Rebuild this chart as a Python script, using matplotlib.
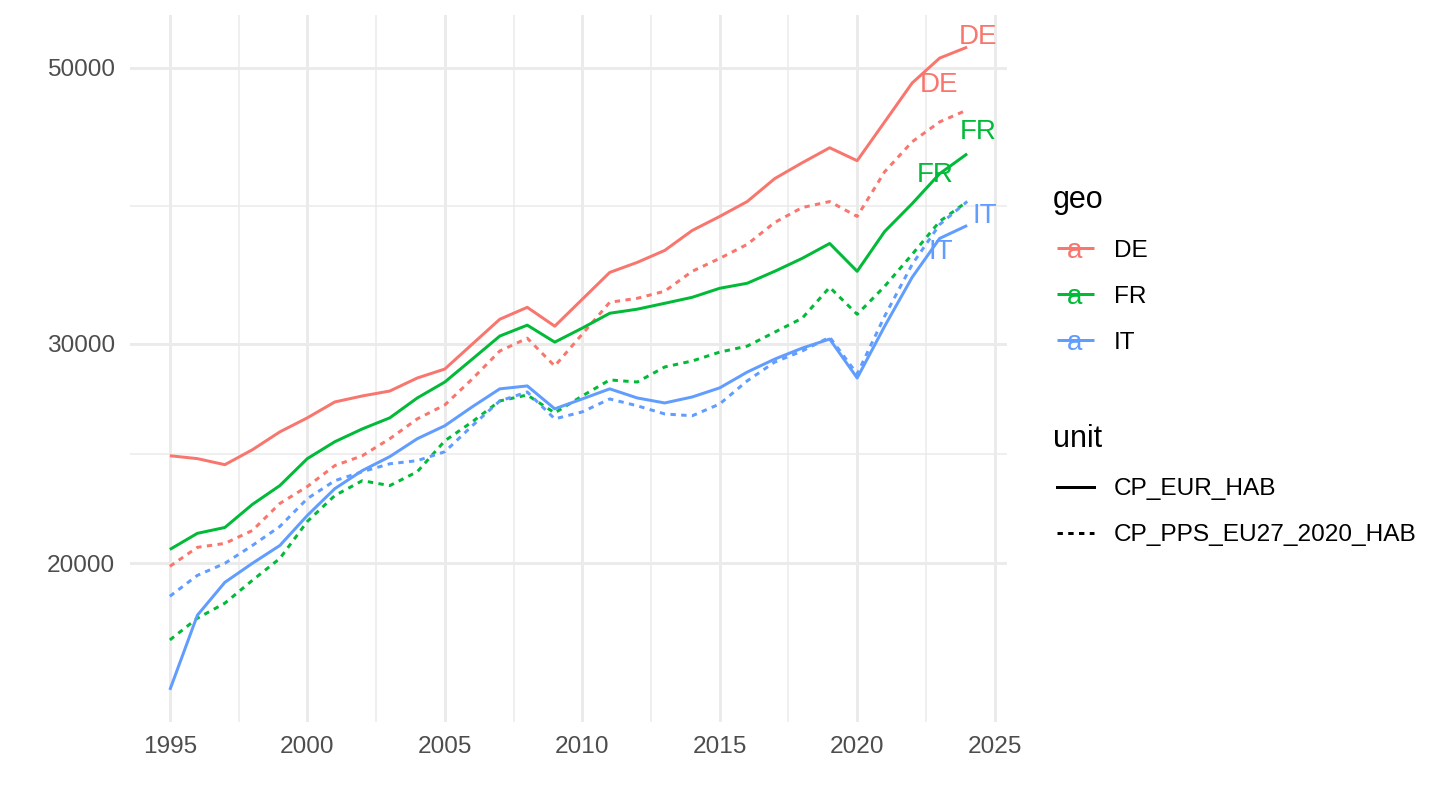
import numpy as np
import matplotlib
matplotlib.use("Agg")
import matplotlib.pyplot as plt
from matplotlib.lines import Line2D

plt.rcParams["font.family"] = ["Liberation Sans", "DejaVu Sans"]

YEARS = list(range(1995, 2025))

DE_EUR = [24400, 24270, 24000, 24670, 25500, 26170, 26950, 27250, 27500, 28170,
          28640, 29990, 31400, 32100, 31000, 32580, 34240, 34880, 35660, 37000,
          37970, 39030, 40720, 41930, 43110, 42090, 45220, 48590, 50880, 51920]
DE_PPS = [19890, 20600, 20750, 21250, 22340, 23050, 23960, 24400, 25180, 26120,
          26800, 28120, 29610, 30320, 28800, 30550, 32400, 32640, 33070, 34310,
          35140, 36060, 37550, 38600, 39030, 37970, 41240, 43590, 45220, 46230]
FR_EUR = [20520, 21140, 21370, 22300, 23090, 24270, 25040, 25640, 26170, 27150,
          27960, 29170, 30440, 31060, 30100, 30890, 31750, 31990, 32340, 32700,
          33250, 33560, 34310, 35140, 36120, 34310, 36930, 38880, 41090, 42630]
FR_PPS = [17360, 18070, 18580, 19380, 20180, 21610, 22670, 23300, 23090, 23690,
          25080, 25980, 27000, 27300, 26410, 27250, 28070, 27960, 28750, 29070,
          29550, 29880, 30660, 31460, 33310, 31690, 33370, 35400, 37620, 39030]
IT_EUR = [15830, 18170, 19310, 20000, 20670, 21850, 22960, 23740, 24360, 25180,
          25790, 26710, 27610, 27760, 26610, 27100, 27610, 27150, 26900, 27200,
          27660, 28480, 29170, 29770, 30270, 28170, 31000, 33930, 36460, 37340]
IT_PPS = [18820, 19560, 20000, 20670, 21410, 22540, 23300, 23690, 24040, 24180,
          24580, 25790, 27000, 27450, 26120, 26460, 27100, 26760, 26360, 26270,
          26850, 28020, 29010, 29610, 30380, 28380, 31580, 34750, 37410, 39030]

GEOS = ["DE", "FR", "IT"]
UNITS = ["CP_EUR_HAB", "CP_PPS_EU27_2020_HAB"]
SERIES = {("DE", "CP_EUR_HAB"): DE_EUR, ("DE", "CP_PPS_EU27_2020_HAB"): DE_PPS,
          ("FR", "CP_EUR_HAB"): FR_EUR, ("FR", "CP_PPS_EU27_2020_HAB"): FR_PPS,
          ("IT", "CP_EUR_HAB"): IT_EUR, ("IT", "CP_PPS_EU27_2020_HAB"): IT_PPS}
Y_TICKS = [20000, 30000, 50000]
X_TICKS = [1995, 2000, 2005, 2010, 2015, 2020, 2025]

COLORS = {"DE": "#F8766D", "FR": "#00BA38", "IT": "#619CFF"}
STYLES = {"CP_EUR_HAB": "-", "CP_PPS_EU27_2020_HAB": (0, (1.8, 1.8))}
# label offsets (points) from the last point of each line, mimicking ggrepel
OFFSETS = {("DE", "CP_EUR_HAB"): (8, 7), ("DE", "CP_PPS_EU27_2020_HAB"): (-20, 18),
           ("FR", "CP_EUR_HAB"): (8, 16), ("FR", "CP_PPS_EU27_2020_HAB"): (-23, 19),
           ("IT", "CP_EUR_HAB"): (13, 7), ("IT", "CP_PPS_EU27_2020_HAB"): (-19, -36)}

W, H = 1440, 810
fig = plt.figure(figsize=(14.4, 8.1), dpi=100)
ax = fig.add_axes([130 / W, 1 - 722 / H, (1007 - 130) / W, (722 - 15) / H])

for (g, u), vals in SERIES.items():
    ax.plot(YEARS, vals, color=COLORS[g], linestyle=STYLES[u], lw=2.15,
            solid_capstyle="butt", dash_capstyle="butt", zorder=3)
    ox, oy = OFFSETS[(g, u)]
    ax.annotate(g, xy=(YEARS[-1], vals[-1]), xytext=(ox, oy), textcoords="offset points",
                ha="center", va="center", fontsize=20, color=COLORS[g], zorder=4)

ax.set_yscale("log")
allv = np.concatenate([np.asarray(v) for v in SERIES.values()])
lo, hi = np.log10(allv.min()), np.log10(allv.max())
pad = 0.05 * (hi - lo)
ax.set_ylim(10 ** (lo - pad), 10 ** (hi + pad))
xpad = 0.05 * (YEARS[-1] - YEARS[0])
ax.set_xlim(YEARS[0] - xpad, YEARS[-1] + xpad)

ax.set_yticks(Y_TICKS)
ax.set_yticklabels([str(t) for t in Y_TICKS])
ax.set_yticks([np.sqrt(a * b) for a, b in zip(Y_TICKS[:-1], Y_TICKS[1:])], minor=True)
ax.set_xticks(X_TICKS)
ax.set_xticks([(a + b) / 2 for a, b in zip(X_TICKS[:-1], X_TICKS[1:])], minor=True)
ax.yaxis.set_minor_formatter(plt.NullFormatter())
ax.grid(True, which="major", color="#EBEBEB", lw=2.15, zorder=0)
ax.grid(True, which="minor", color="#EBEBEB", lw=1.1, zorder=0)
ax.set_axisbelow(True)
ax.tick_params(which="both", length=0)
ax.tick_params(axis="y", labelsize=17.6, labelcolor="#4D4D4D", pad=11)
ax.tick_params(axis="x", labelsize=17.6, labelcolor="#4D4D4D", pad=10)
for sp in ax.spines.values():
    sp.set_visible(False)

# legends drawn by hand in figure pixel coordinates
def fx(px):
    return px / W

def fy(py):
    return 1 - py / H

fig.text(fx(1053), fy(208), "geo", fontsize=22, va="baseline", ha="left")
for i, g in enumerate(GEOS):
    yb = 257 + 46 * i
    fig.add_artist(Line2D([fx(1057), fx(1094)], [fy(yb - 9), fy(yb - 9)],
                          color=COLORS[g], lw=2.15, solid_capstyle="butt"))
    fig.text(fx(1075), fy(yb + 1), "a", fontsize=20, color=COLORS[g], ha="center", va="baseline")
    fig.text(fx(1114), fy(yb), g, fontsize=17.6, va="baseline", ha="left")

fig.text(fx(1053), fy(447), "unit", fontsize=22, va="baseline", ha="left")
for i, u in enumerate(UNITS):
    yl = 487 + 46 * i
    fig.add_artist(Line2D([fx(1057), fx(1094)], [fy(yl), fy(yl)], color="black",
                          lw=2.15, linestyle=STYLES[u], dash_capstyle="butt"))
    fig.text(fx(1114), fy(yl + 8), u, fontsize=17.6, va="baseline", ha="left")

fig.savefig("out.png", dpi=100, facecolor="white")
